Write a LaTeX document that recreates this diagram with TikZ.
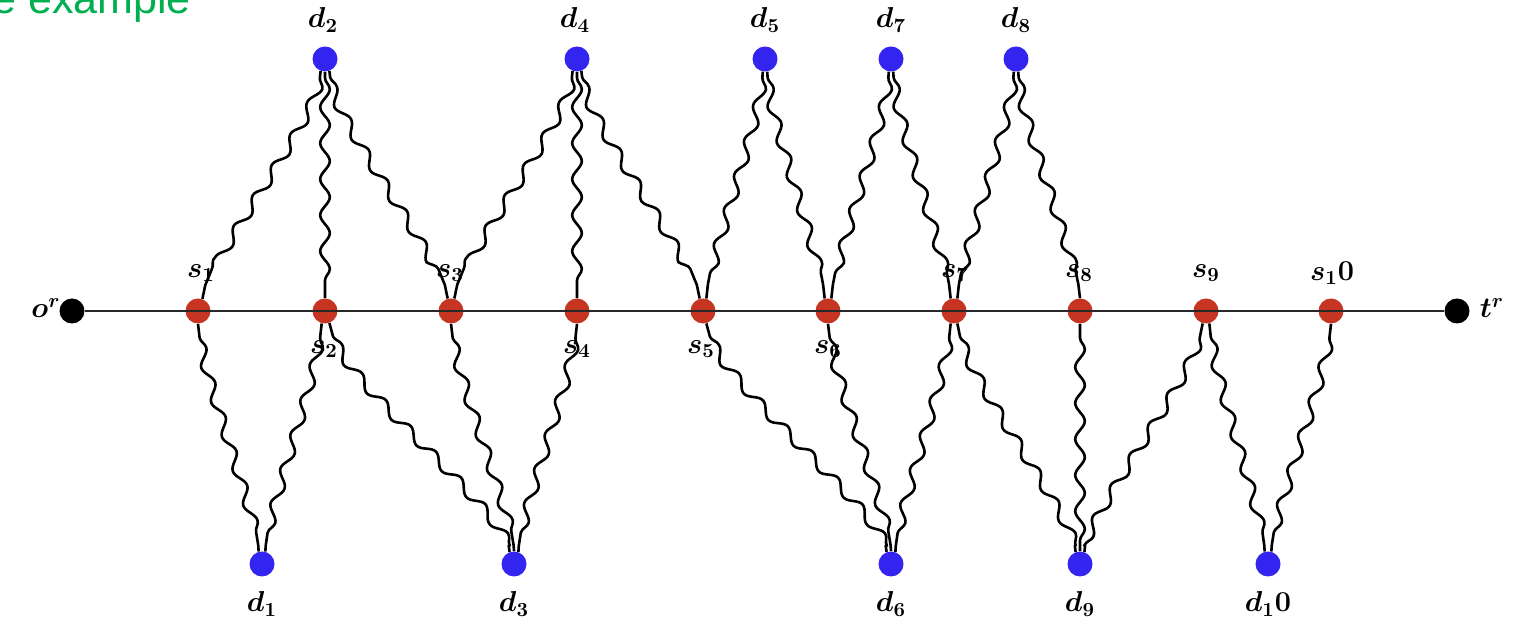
\documentclass[tikz,border=0pt]{standalone}
\usepackage{fontspec}
\newfontfamily\titlefont{Liberation Sans}
\usetikzlibrary{decorations.pathmorphing}
\definecolor{snode}{RGB}{198,52,34}
\definecolor{dnode}{RGB}{52,36,240}
\definecolor{ttl}{RGB}{0,176,80}
\definecolor{axis}{RGB}{40,40,40}
\tikzset{
  sn/.style={circle,fill=snode,inner sep=0,minimum size=12.5pt},
  dn/.style={circle,fill=dnode,inner sep=0,minimum size=12.5pt},
  en/.style={circle,fill=black,inner sep=0,minimum size=12.5pt},
  lab/.style={inner sep=0,font=\fontsize{14}{16}\selectfont\boldmath},
  wave/.style={line width=1.3pt,decorate,decoration={snake,segment length=18pt,amplitude=2.4pt,pre length=3pt,post length=7pt}},
  wv/.style={out=-90,in=90,looseness=0.4},
  wvb/.style={out=-90,in=90,looseness=0.4,decoration={pre length=7pt,post length=3pt}},
}
\begin{document}
\begin{tikzpicture}[x=0.5pt,y=-0.5pt]
\useasboundingbox (0,0) rectangle (1516,619);
\clip (0,0) rectangle (1516,619);
\fill[white] (0,0) rectangle (1516,619);
\node[anchor=base west,text=ttl,font=\titlefont\fontsize{21.5}{24}\selectfont,inner sep=0] (title) at (-8,14) {e example};
% end points
\node[en] (o) at (72,311) {};
\node[en] (t) at (1457,311) {};
% s nodes
\node[sn] (s1) at (198,311) {};
\node[sn] (s2) at (325,311) {};
\node[sn] (s3) at (451,311) {};
\node[sn] (s4) at (577,311) {};
\node[sn] (s5) at (703,311) {};
\node[sn] (s6) at (828,311) {};
\node[sn] (s7) at (954,311) {};
\node[sn] (s8) at (1080,311) {};
\node[sn] (s9) at (1206,311) {};
\node[sn] (s10) at (1331,311) {};
% d nodes
\node[dn] (d2) at (325,59) {};
\node[dn] (d4) at (577,59) {};
\node[dn] (d5) at (765,59) {};
\node[dn] (d7) at (891,59) {};
\node[dn] (d8) at (1016,59) {};
\node[dn] (d1) at (262,564) {};
\node[dn] (d3) at (514,564) {};
\node[dn] (d6) at (891,564) {};
\node[dn] (d9) at (1080,564) {};
\node[dn] (d10) at (1268,564) {};
% main line
\draw[axis,line width=1.2pt] (o) -- (t);
% labels
\node[lab] (lo) at (46,308) {$o^r$};
\node[lab] (lt) at (1492,308) {$t^r$};
\node[lab] (ls1) at (201,273) {$s_1$};
\node[lab] (ls2) at (324,349) {$s_2$};
\node[lab] (ls3) at (450,273) {$s_3$};
\node[lab] (ls4) at (577,349) {$s_4$};
\node[lab] (ls5) at (701,349) {$s_5$};
\node[lab] (ls6) at (828,349) {$s_6$};
\node[lab] (ls7) at (955,273) {$s_7$};
\node[lab] (ls8) at (1079,273) {$s_8$};
\node[lab] (ls9) at (1206,273) {$s_9$};
\node[lab] (ls10) at (1332,273) {$s_10$};
\node[lab] (ld2) at (323,20) {$d_2$};
\node[lab] (ld4) at (575,20) {$d_4$};
\node[lab] (ld5) at (765,20) {$d_5$};
\node[lab] (ld7) at (891,20) {$d_7$};
\node[lab] (ld8) at (1016,20) {$d_8$};
\node[lab] (ld1) at (262,604) {$d_1$};
\node[lab] (ld3) at (514,604) {$d_3$};
\node[lab] (ld6) at (891,604) {$d_6$};
\node[lab] (ld9) at (1080,604) {$d_9$};
\node[lab] (ld10) at (1268,604) {$d_10$};
% wavy edges, top
\draw[wave] (d2.-110) to[wv] (s1.70);
\draw[wave] (d2.-90) to[wv] (s2.north);
\draw[wave] (d2.-70) to[wv] (s3.105);
\draw[wave] (d4.-110) to[wv] (s3.75);
\draw[wave] (d4.-90) to[wv] (s4.north);
\draw[wave] (d4.-70) to[wv] (s5.105);
\draw[wave] (d5.-100) to[wv] (s5.75);
\draw[wave] (d5.-80) to[wv] (s6.105);
\draw[wave] (d7.-100) to[wv] (s6.75);
\draw[wave] (d7.-80) to[wv] (s7.105);
\draw[wave] (d8.-100) to[wv] (s7.75);
\draw[wave] (d8.-80) to[wv] (s8.north);
% wavy edges, bottom
\draw[wave,wvb] (s1.-90) to[wv] (d1.105);
\draw[wave,wvb] (s2.-105) to[wv] (d1.75);
\draw[wave,wvb] (s2.-70) to[wv] (d3.110);
\draw[wave,wvb] (s3.-90) to[wv] (d3.90);
\draw[wave,wvb] (s4.-90) to[wv] (d3.70);
\draw[wave,wvb] (s5.-75) to[wv] (d6.110);
\draw[wave,wvb] (s6.-90) to[wv] (d6.90);
\draw[wave,wvb] (s7.-105) to[wv] (d6.70);
\draw[wave,wvb] (s7.-75) to[wv] (d9.110);
\draw[wave,wvb] (s8.-90) to[wv] (d9.90);
\draw[wave,wvb] (s9.-105) to[wv] (d9.70);
\draw[wave,wvb] (s9.-75) to[wv] (d10.105);
\draw[wave,wvb] (s10.-90) to[wv] (d10.75);
\end{tikzpicture}
\end{document}
